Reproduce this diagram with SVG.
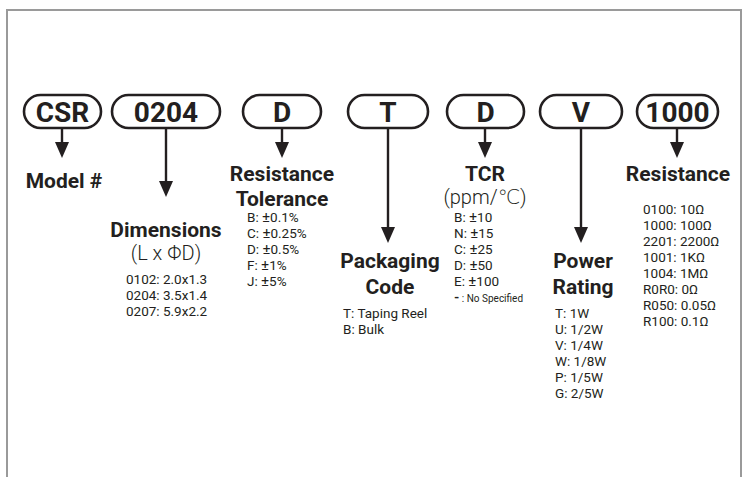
<svg xmlns="http://www.w3.org/2000/svg" width="744" height="477" viewBox="0 0 744 477">
<style>
.box{fill:#fff;stroke:#231f20;stroke-width:2.6}
.code{font-family:Roboto,"Liberation Sans",sans-serif;font-weight:bold;font-size:28px;fill:#231f20;text-anchor:middle}
.head{font-family:Roboto,"Liberation Sans",sans-serif;font-weight:bold;font-size:21px;fill:#231f20;text-anchor:middle}
.sub{font-family:Roboto,"DejaVu Sans",sans-serif;font-size:20px;fill:#231f20;text-anchor:middle;font-weight:300}
.item{font-family:Roboto,"DejaVu Sans",sans-serif;font-size:13.5px;fill:#231f20}
.pm{font-size:15px}
.small{font-size:10px}
.conn{stroke:#231f20;stroke-width:2.4;fill:none;marker-end:url(#arr)}
</style>
<defs>
<marker id="arr" markerUnits="userSpaceOnUse" markerWidth="16" markerHeight="14" viewBox="0 -7 16 14" refX="0" refY="0" orient="auto">
<path d="M0,-7 L16,0 L0,7 z" fill="#231f20"/>
</marker>
</defs>
<rect width="744" height="477" fill="#fff"/>
<path d="M7,477 V10 H741 V477" fill="none" stroke="#9a9a9a" stroke-width="2"/>
<g id="connectors">
<line class="conn" x1="62" y1="129" x2="62" y2="142"/>
<line class="conn" x1="166" y1="129" x2="166" y2="181"/>
<line class="conn" x1="282" y1="129" x2="282" y2="142"/>
<line class="conn" x1="388" y1="129" x2="388" y2="227"/>
<line class="conn" x1="485" y1="129" x2="485" y2="142"/>
<line class="conn" x1="581" y1="129" x2="581" y2="227"/>
<line class="conn" x1="677" y1="129" x2="677" y2="142"/>
</g>
<g id="csr">
<rect class="box" x="24" y="95" width="77" height="33" rx="16.5"/>
<text class="code" x="62.5" y="122">CSR</text>
<text class="head" x="64" y="188">Model #</text>
</g>
<g id="dimensions">
<rect class="box" x="112" y="95" width="108" height="33" rx="16.5"/>
<text class="code" x="166" y="122">0204</text>
<text class="head" x="166" y="237">Dimensions</text>
<text class="sub" x="166" y="260">(L x ΦD)</text>
<text class="item" x="126" y="284">0102: 2.0x1.3</text>
<text class="item" x="126" y="300">0204: 3.5x1.4</text>
<text class="item" x="126" y="316">0207: 5.9x2.2</text>
</g>
<g id="tolerance">
<rect class="box" x="243" y="95" width="78" height="33" rx="16.5"/>
<text class="code" x="282" y="122">D</text>
<text class="head" x="282" y="181">Resistance</text>
<text class="head" x="282" y="206">Tolerance</text>
<text class="item" x="247" y="222">B: <tspan class="pm">±</tspan>0.1%</text>
<text class="item" x="247" y="238">C: <tspan class="pm">±</tspan>0.25%</text>
<text class="item" x="247" y="254">D: <tspan class="pm">±</tspan>0.5%</text>
<text class="item" x="247" y="270">F: <tspan class="pm">±</tspan>1%</text>
<text class="item" x="247" y="286">J: <tspan class="pm">±</tspan>5%</text>
</g>
<g id="packaging">
<rect class="box" x="348" y="95" width="80" height="33" rx="16.5"/>
<text class="code" x="388" y="122">T</text>
<text class="head" x="390" y="268">Packaging</text>
<text class="head" x="390" y="294">Code</text>
<text class="item" x="343" y="318">T: Taping Reel</text>
<text class="item" x="343" y="334">B: Bulk</text>
</g>
<g id="tcr">
<rect class="box" x="447" y="95" width="77" height="33" rx="16.5"/>
<text class="code" x="485.5" y="122">D</text>
<text class="head" x="485" y="181">TCR</text>
<text class="sub" x="485" y="204">(ppm/℃)</text>
<text class="item" x="454" y="222">B: <tspan class="pm">±</tspan>10</text>
<text class="item" x="454" y="238">N: <tspan class="pm">±</tspan>15</text>
<text class="item" x="454" y="254">C: <tspan class="pm">±</tspan>25</text>
<text class="item" x="454" y="270">D: <tspan class="pm">±</tspan>50</text>
<text class="item" x="454" y="286">E: <tspan class="pm">±</tspan>100</text>
<text class="item" x="454" y="302"><tspan font-weight="bold">-</tspan><tspan class="small"> : No Specified</tspan></text>
</g>
<g id="power">
<rect class="box" x="540" y="95" width="82" height="33" rx="16.5"/>
<text class="code" x="581" y="122">V</text>
<text class="head" x="583" y="268">Power</text>
<text class="head" x="583" y="294">Rating</text>
<text class="item" x="555" y="318">T: 1W</text>
<text class="item" x="555" y="334">U: 1/2W</text>
<text class="item" x="555" y="350">V: 1/4W</text>
<text class="item" x="555" y="366">W: 1/8W</text>
<text class="item" x="555" y="382">P: 1/5W</text>
<text class="item" x="555" y="398">G: 2/5W</text>
</g>
<g id="resistance">
<rect class="box" x="637" y="95" width="81" height="33" rx="16.5"/>
<text class="code" x="677.5" y="122">1000</text>
<text class="head" x="678" y="181">Resistance</text>
<text class="item" x="643" y="214">0100: 10Ω</text>
<text class="item" x="643" y="230">1000: 100Ω</text>
<text class="item" x="643" y="246">2201: 2200Ω</text>
<text class="item" x="643" y="262">1001: 1KΩ</text>
<text class="item" x="643" y="278">1004: 1MΩ</text>
<text class="item" x="643" y="294">R0R0: 0Ω</text>
<text class="item" x="643" y="310">R050: 0.05Ω</text>
<text class="item" x="643" y="326">R100: 0.1Ω</text>
</g>
</svg>
